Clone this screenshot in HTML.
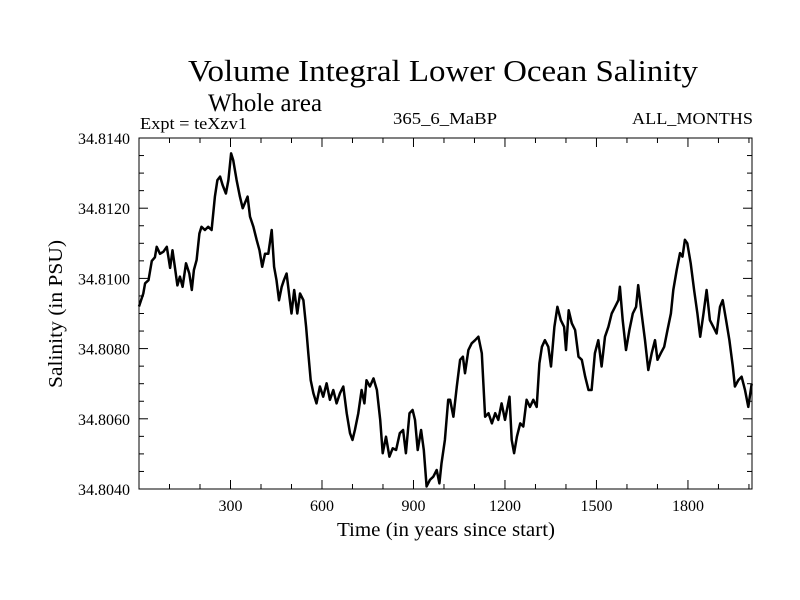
<!DOCTYPE html>
<html><head><meta charset="utf-8"><style>
html,body{margin:0;padding:0;background:#fff;}
svg{display:block;font-family:"Liberation Serif",serif;}
</style></head><body>
<svg id="chart" width="800" height="600">
<text x="188" y="81" font-size="31" textLength="510" lengthAdjust="spacingAndGlyphs">Volume Integral Lower Ocean Salinity</text>
<text x="208" y="111" font-size="25" textLength="114" lengthAdjust="spacingAndGlyphs">Whole area</text>
<text x="140" y="129" font-size="17" textLength="107" lengthAdjust="spacingAndGlyphs">Expt = teXzv1</text>
<text x="393" y="124" font-size="17" textLength="104" lengthAdjust="spacingAndGlyphs">365_6_MaBP</text>
<text x="632" y="124" font-size="17" textLength="121" lengthAdjust="spacingAndGlyphs">ALL_MONTHS</text>
<text x="337" y="536" font-size="20" textLength="218" lengthAdjust="spacingAndGlyphs">Time (in years since start)</text>
<text x="0" y="0" font-size="20" text-anchor="middle" textLength="148" lengthAdjust="spacingAndGlyphs" transform="translate(62,314) rotate(-90)">Salinity (in PSU)</text>
<g id="axes"></g>
<path id="line" fill="none" stroke="#000" stroke-width="2.5" stroke-linejoin="round"></path>
<rect x="139" y="138" width="613" height="351" fill="none" stroke="#000" stroke-width="1"></rect>
</svg>
<script>
const years=[0,14,20,31,36,42,52,58,69,80,91,102,110,118,126,134,143,154,165,173,180,189,198,205,216,227,238,249,257,266,274,285,293,302,309,320,331,340,347,356,364,375,386,395,404,413,424,435,443,451,459,468,475,484,493,500,509,519,528,539,548,555,563,572,582,593,604,615,626,637,648,659,670,681,692,700,708,719,730,739,746,757,769,780,791,799,810,821,832,843,855,866,875,887,897,905,914,925,934,943,954,965,976,985,992,1003,1014,1020,1031,1042,1053,1062,1069,1080,1091,1102,1113,1124,1135,1146,1157,1168,1178,1189,1200,1215,1222,1230,1239,1250,1260,1271,1282,1293,1304,1313,1321,1331,1342,1351,1362,1372,1383,1394,1400,1409,1419,1430,1441,1452,1463,1474,1484,1495,1506,1517,1528,1539,1550,1561,1572,1577,1586,1597,1608,1619,1630,1637,1648,1659,1670,1681,1692,1700,1711,1722,1733,1744,1752,1763,1774,1782,1790,1798,1809,1820,1831,1840,1851,1861,1872,1883,1894,1905,1914,1925,1936,1947,1954,1965,1976,1987,1998,2009];
const salinityOffset=[92,95.7,98.6,99.5,102,105,106,109,107,107.6,109,103,108,103,98,100.5,97.6,104.3,101.4,96.7,102.4,105.2,112.8,114.7,113.8,114.7,113.8,123.3,128,129,126.6,124.2,128,135.6,133.7,128,123.3,120,121.4,123.3,117.6,114.7,110.9,108,103.3,107,107,113.8,103.3,99.5,93.8,97.6,99.5,101.4,94.8,90,96.7,90,95.7,93.8,86.2,78.7,71,67.3,64.4,69.2,66.3,70.1,65.4,68.2,64.4,67.3,69.2,61.6,55.9,54,56.8,61.6,68.2,64.4,71,69.2,71.5,68.2,59.7,50.2,54.9,49.2,51.6,51.1,55.9,56.8,50.2,61.6,62.5,59.7,51.1,56.8,51.1,40.7,42.6,43.5,45.4,41.6,47.3,54,65.4,65.4,60.6,69.2,76.8,77.7,73,79.6,81.5,82.4,83.4,78.7,60.6,61.6,58.7,61.6,59.7,64.4,59.7,66.3,54,50.2,54.9,58.7,57.8,65.4,63.4,65.4,63.4,75.8,80.5,82.4,80.5,74.9,86.2,91.9,88.1,86.2,79.6,90.9,87.2,85.3,77.7,76.8,72,68.2,68.2,78.7,82.4,74.9,83.4,86.2,90,91.9,93.8,97.6,88.1,79.6,85.3,90,91.9,98.1,90,82.4,73.9,78.7,82.4,76.8,78.7,80.5,85.3,90,96.7,102.4,107.2,106.2,111,110,104.3,96.7,90,83.4,90,96.7,88.1,86.2,84.3,91.9,93.8,88.1,82.4,74.9,69.2,71,72,68.2,63.4,70];
const xTickValues=[300,600,900,1200,1500,1800];
const yTickLabels=["34.8040","34.8060","34.8080","34.8100","34.8120","34.8140"];
const L=139,R=752,T=138,B=489,X0=0,X1=2010,Y0=34.804,Y1=34.814;
const sx=v=>L+(v-X0)/(X1-X0)*(R-L);
const sy=v=>B-(v-Y0)/(Y1-Y0)*(B-T);
const NS="http://www.w3.org/2000/svg";
const axes=document.getElementById('axes');
function line(x1,y1,x2,y2,name){const l=document.createElementNS(NS,'line');
l.setAttribute('x1',x1);l.setAttribute('y1',y1);l.setAttribute('x2',x2);l.setAttribute('y2',y2);
l.setAttribute('stroke','#000');l.setAttribute('stroke-width','1');


axes.appendChild(l);}
function text(x,y,s,anchor,name){const t=document.createElementNS(NS,'text');
t.setAttribute('x',x);t.setAttribute('y',y);t.setAttribute('font-size','16');t.setAttribute('text-anchor',anchor);t.textContent=s;


axes.appendChild(t);}
for(let yr=100;yr<X1;yr+=100){const x=sx(yr);const major=yr%300===0;const len=major?9:5;
line(x,B,x,B-len,'x-tick');line(x,T,x,T+len,'x-tick-top');}
xTickValues.forEach(v=>text(sx(v),511,String(v),'middle','x-tick-label'));
for(let k=0;k<=20;k++){const v=Y0+k*0.0005;const y=sy(v);const major=k%4===0;const len=major?9:5;
line(L,y,L+len,y,'y-tick');line(R,y,R-len,y,'y-tick-right');}
yTickLabels.forEach(s=>text(130,sy(parseFloat(s))+6,s,'end','y-tick-label'));
let d='';years.forEach((yr,i)=>{const v=34.8+salinityOffset[i]*0.0001;d+=(i?'L':'M')+sx(yr).toFixed(1)+','+sy(v).toFixed(1);});
document.getElementById('line').setAttribute('d',d);
</script>
</body></html>
